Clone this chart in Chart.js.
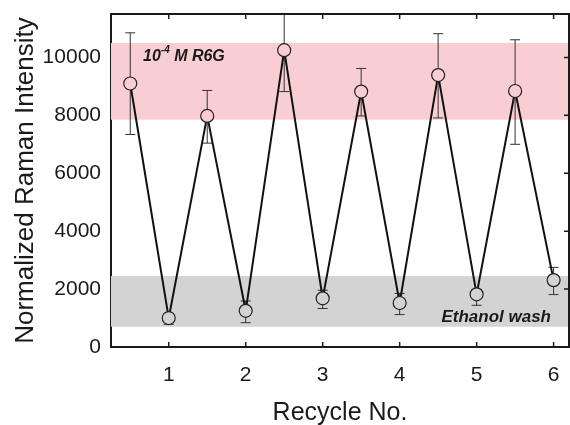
<!DOCTYPE html>
<html>
<head>
<meta charset="utf-8">
<script src="https://cdn.jsdelivr.net/npm/chart.js@4"></script>
<style>
  html, body { margin: 0; padding: 0; background: #fff; }
  #wrap { width: 570px; height: 425px; }
</style>
</head>
<body>
<div id="wrap"><canvas id="ramanChart"></canvas></div>
<script>
// recycle positions (half steps = R6G loading, whole steps = ethanol wash)
const recycleX = [0.5, 1, 1.5, 2, 2.5, 3, 3.5, 4, 4.5, 5, 5.5, 6];
const intensity = [9100, 1000, 7980, 1250, 10250, 1680, 8820, 1520, 9390, 1820, 8840, 2310];
const errUpper = [10850, 1100, 8860, 1590, 11700, 1960, 9620, 1850, 10820, 1990, 10610, 2750];
const errLower = [7340, 780, 7040, 840, 8820, 1330, 7980, 1120, 7910, 1440, 7000, 1810];

const xTicks = [1, 2, 3, 4, 5, 6];
const yTicks = [0, 2000, 4000, 6000, 8000, 10000];

// shaded ranges
const r6gBand = [7850, 10500];
const washBand = [700, 2450];

const PINK = "rgb(248, 206, 210)";
const GRAY = "rgb(211, 211, 211)";
const INK = "#1a1a1a";
const FONT = "'Liberation Sans', Arial, sans-serif";

const bandColorFor = (v) => {
  if (v >= r6gBand[0] && v <= r6gBand[1]) return PINK;
  if (v >= washBand[0] && v <= washBand[1]) return GRAY;
  return "#fff";
};

const bandsPlugin = {
  id: "bands",
  beforeDatasetsDraw(chart) {
    const { ctx, chartArea, scales } = chart;
    const y = scales.y;
    ctx.save();
    ctx.beginPath();
    ctx.rect(chartArea.left, chartArea.top, chartArea.right - chartArea.left, chartArea.bottom - chartArea.top);
    ctx.clip();

    const drawBand = (band, color) => {
      const top = y.getPixelForValue(band[1]);
      const bottom = y.getPixelForValue(band[0]);
      ctx.fillStyle = color;
      ctx.fillRect(chartArea.left, top, chartArea.right - chartArea.left, bottom - top);
    };
    drawBand(r6gBand, PINK);
    drawBand(washBand, GRAY);

    // error bars
    const x = scales.x;
    ctx.strokeStyle = "#333";
    ctx.lineWidth = 1;
    recycleX.forEach((xv, i) => {
      const px = x.getPixelForValue(xv);
      const pHi = y.getPixelForValue(errUpper[i]);
      const pLo = y.getPixelForValue(errLower[i]);
      ctx.beginPath();
      ctx.moveTo(px, pHi);
      ctx.lineTo(px, pLo);
      ctx.moveTo(px - 5, pHi);
      ctx.lineTo(px + 5, pHi);
      ctx.moveTo(px - 5, pLo);
      ctx.lineTo(px + 5, pLo);
      ctx.stroke();
    });
    ctx.restore();

    // band labels
    ctx.save();
    ctx.fillStyle = INK;
    ctx.textBaseline = "alphabetic";
    ctx.font = "italic bold 16px " + FONT;
    let tx = chartArea.left + 32;
    const ty = y.getPixelForValue(r6gBand[1]) + 18;
    ctx.fillText("10", tx, ty);
    tx += ctx.measureText("10").width;
    ctx.font = "italic bold 10px " + FONT;
    ctx.fillText("-4", tx, ty - 8);
    tx += ctx.measureText("-4").width;
    ctx.font = "italic bold 16px " + FONT;
    ctx.fillText(" M R6G", tx, ty);

    ctx.font = "italic bold 17px " + FONT;
    ctx.textAlign = "right";
    ctx.fillText("Ethanol wash", chartArea.right - 18, y.getPixelForValue(washBand[0]) - 5);
    ctx.restore();
  },
  afterDraw(chart) {
    const { ctx, chartArea, scales } = chart;
    ctx.save();
    ctx.strokeStyle = INK;
    ctx.lineWidth = 2;
    ctx.beginPath();
    ctx.moveTo(chartArea.left, chartArea.top);
    ctx.lineTo(chartArea.right, chartArea.top);
    ctx.lineTo(chartArea.right, chartArea.bottom);
    ctx.stroke();

    // inward ticks on top, bottom and right
    ctx.lineWidth = 1.5;
    ctx.beginPath();
    xTicks.forEach((t) => {
      const px = scales.x.getPixelForValue(t);
      ctx.moveTo(px, chartArea.bottom);
      ctx.lineTo(px, chartArea.bottom - 5);
      ctx.moveTo(px, chartArea.top);
      ctx.lineTo(px, chartArea.top + 5);
    });
    yTicks.forEach((t) => {
      const py = scales.y.getPixelForValue(t);
      ctx.moveTo(chartArea.right, py);
      ctx.lineTo(chartArea.right - 5, py);
    });
    ctx.stroke();
    ctx.restore();
  },
};

const ctx = document.getElementById("ramanChart").getContext("2d");
const ramanChart = new Chart(ctx, {
  type: "line",
  data: {
    datasets: [
      {
        label: "Normalized Raman Intensity",
        data: recycleX.map((xv, i) => ({ x: xv, y: intensity[i] })),
        borderColor: "#111",
        borderWidth: 2,
        tension: 0,
        pointRadius: 6.5,
        pointHoverRadius: 6.5,
        pointBorderColor: "#222",
        pointBorderWidth: 1.2,
        pointBackgroundColor: (c) => bandColorFor(intensity[c.dataIndex]),
        clip: false,
      },
    ],
  },
  plugins: [bandsPlugin],
  options: {
    responsive: true,
    maintainAspectRatio: false,
    animation: false,
    layout: { autoPadding: false, padding: { top: 14, right: 1, left: 0, bottom: 0 } },
    plugins: {
      legend: { display: false },
      tooltip: { enabled: false },
    },
    scales: {
      x: {
        type: "linear",
        min: 0.25,
        max: 6.2,
        afterBuildTicks: (scale) => {
          scale.ticks = xTicks.map((v) => ({ value: v }));
        },
        afterFit: (scale) => {
          scale.height = 78;
          scale.paddingLeft = 0;
          scale.paddingRight = 0;
        },
        grid: { display: false, drawTicks: false },
        border: { color: INK, width: 2 },
        ticks: {
          color: INK,
          padding: 16,
          maxRotation: 0,
          font: { family: FONT, size: 21 },
        },
        title: {
          display: true,
          text: "Recycle No.",
          color: INK,
          padding: { top: 0, bottom: -3 },
          font: { family: FONT, size: 25 },
        },
      },
      y: {
        type: "linear",
        min: 0,
        max: 11500,
        afterBuildTicks: (scale) => {
          scale.ticks = yTicks.map((v) => ({ value: v }));
        },
        afterFit: (scale) => {
          scale.width = 111;
          scale.paddingTop = 0;
          scale.paddingBottom = 0;
        },
        grid: { display: false, drawTicks: false },
        border: { color: INK, width: 2 },
        ticks: {
          color: INK,
          padding: 10,
          callback: (v) => String(v),
          font: { family: FONT, size: 21 },
        },
        title: {
          display: true,
          text: "Normalized Raman Intensity",
          color: INK,
          padding: { top: 10, bottom: 0 },
          font: { family: FONT, size: 26 },
        },
      },
    },
  },
});
</script>
</body>
</html>
